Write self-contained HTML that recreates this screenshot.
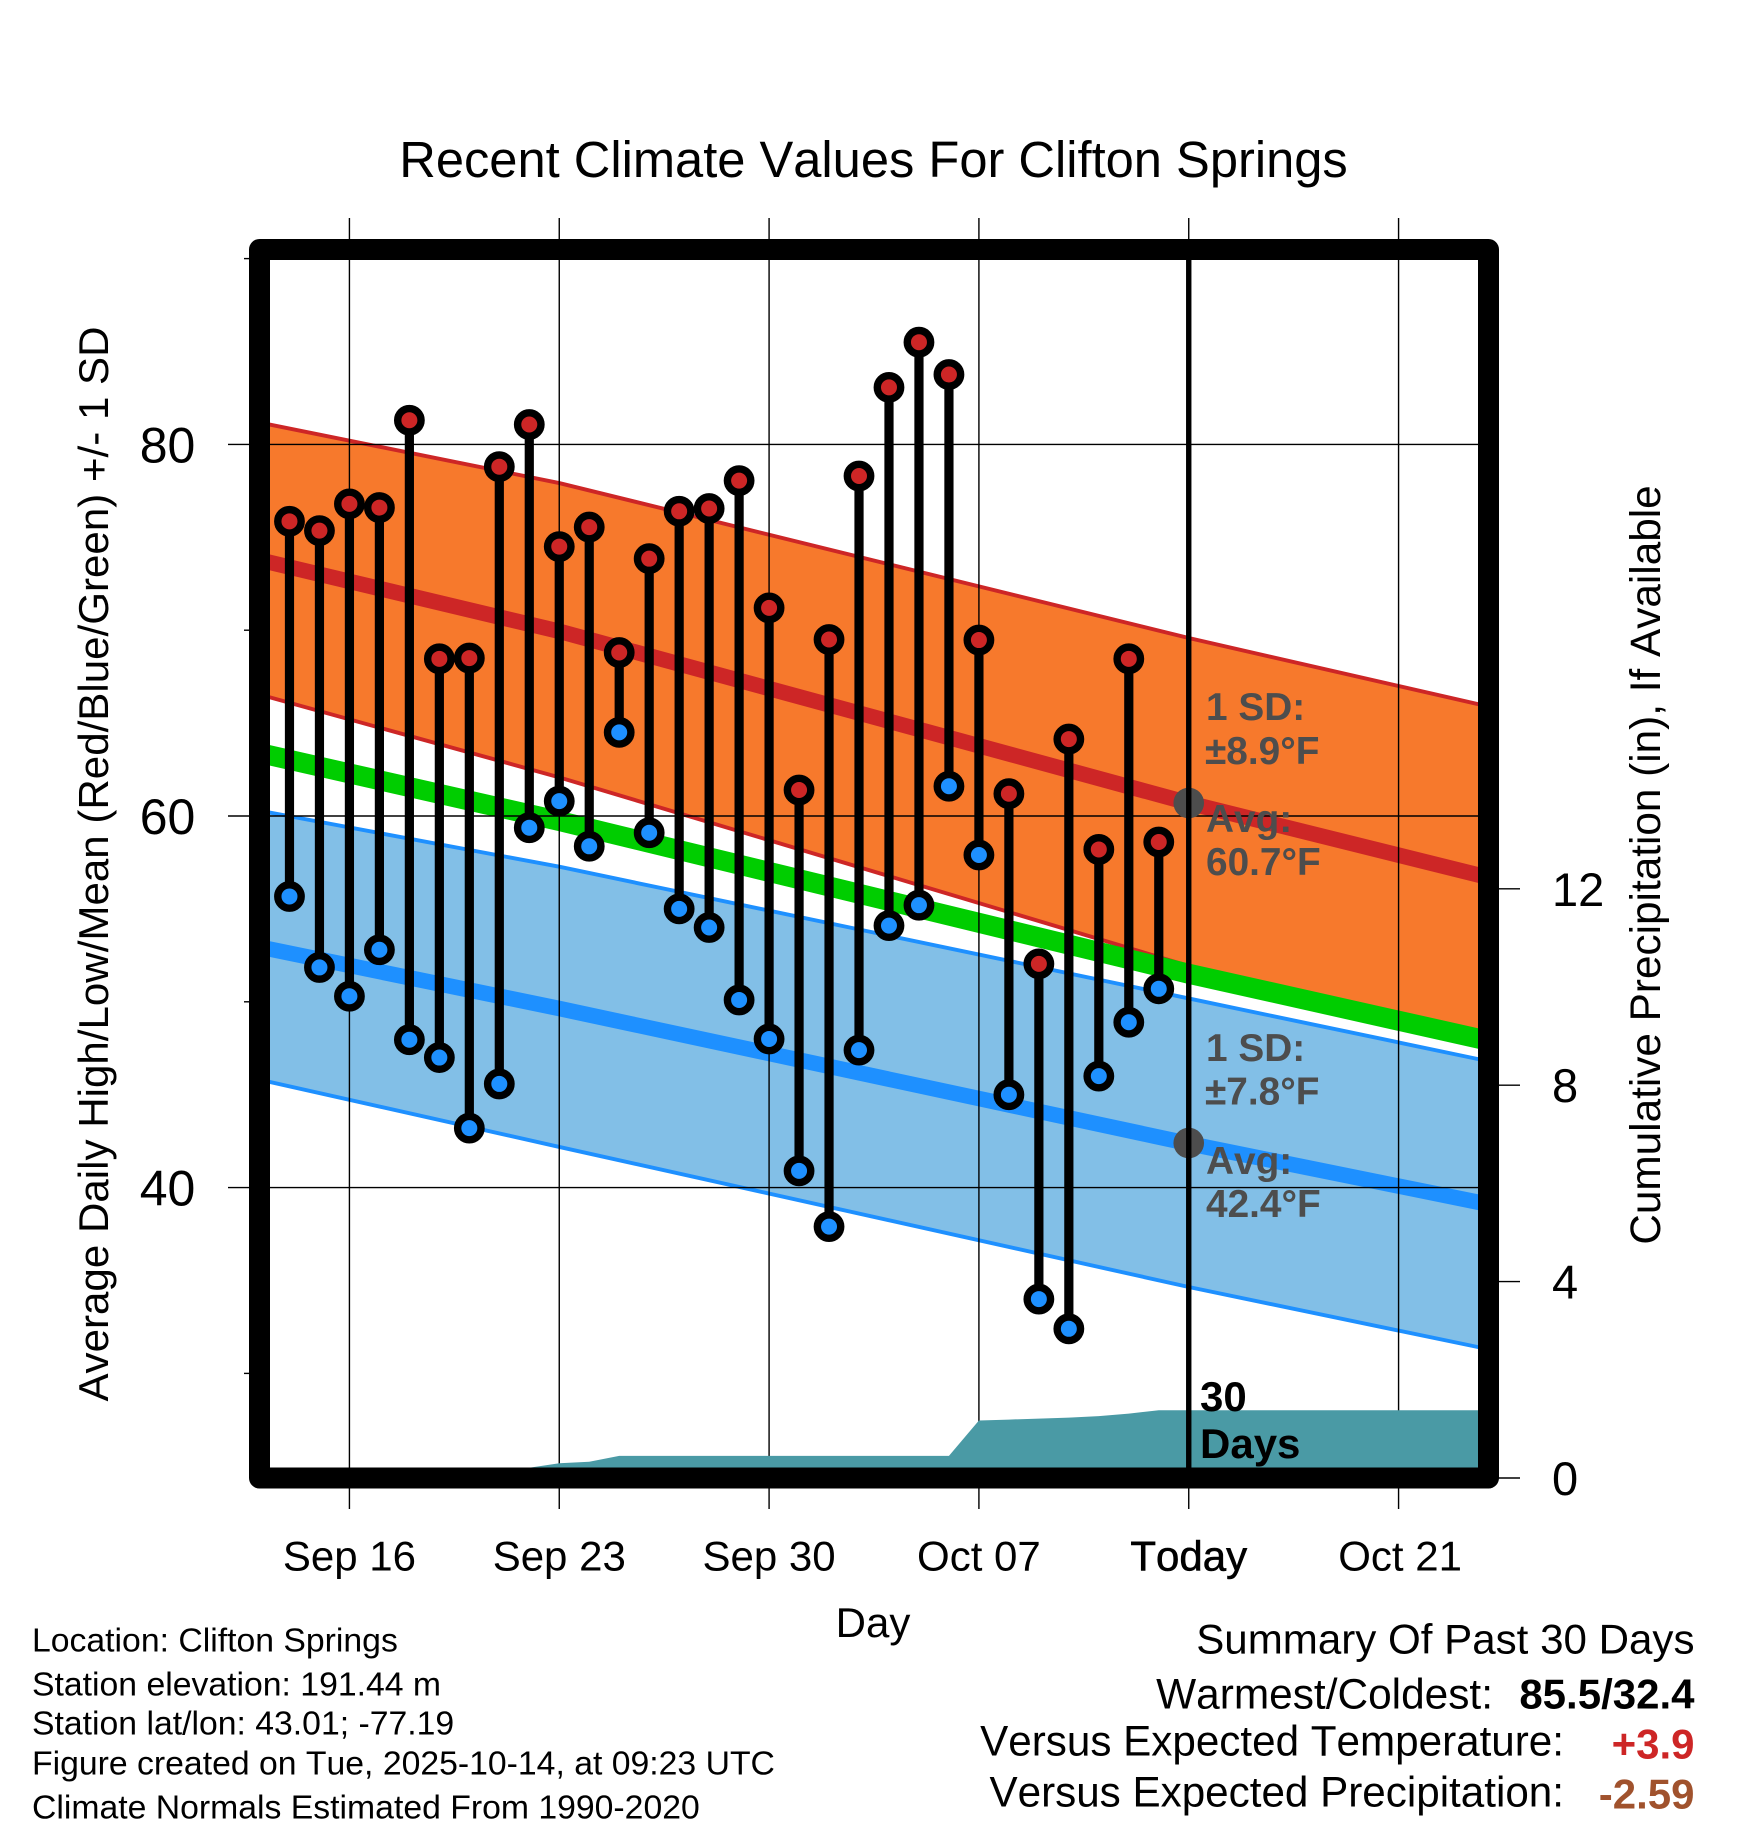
<!DOCTYPE html>
<html lang="en">
<head>
<meta charset="utf-8">
<title>Recent Climate Values For Clifton Springs</title>
<style>
html,body{margin:0;padding:0;background:#fff;}
svg{display:block;font-family:"Liberation Sans",Arial,sans-serif;font-kerning:none;}
text{font-kerning:none;}
</style>
</head>
<body>
<svg id="chart" xmlns="http://www.w3.org/2000/svg" width="1748" height="1828" viewBox="0 0 1748 1828">
  <defs>
    <clipPath id="plot-clip"><rect x="270" y="260" width="1208" height="1208"/></clipPath>
  </defs>
  <rect x="0" y="0" width="1748" height="1828" fill="#ffffff"/>
  <g id="bands" clip-path="url(#plot-clip)"></g>
  <g id="grid"></g>
  <g id="precip" clip-path="url(#plot-clip)"></g>
  <g id="marks" clip-path="url(#plot-clip)"></g>
  <g id="today"></g>
  <rect x="259.5" y="249.5" width="1229" height="1228.5" fill="none" stroke="#000" stroke-width="21" stroke-linejoin="round"/>
  <g id="ticks"></g>

  <text x="873.5" y="177" font-size="50.65" text-anchor="middle">Recent Climate Values For Clifton Springs</text>
  <text transform="translate(108,864) rotate(-90)" font-size="42.1" text-anchor="middle">Average Daily High/Low/Mean (Red/Blue/Green) +/- 1 SD</text>
  <text transform="translate(1660,865) rotate(-90)" font-size="42.3" text-anchor="middle">Cumulative Precipitation (in), If Available</text>
  <text x="873" y="1637" font-size="42" text-anchor="middle">Day</text>

  <g font-size="38.8" font-weight="bold" fill="#4d4d4d">
    <text x="1206" y="720">1 SD:</text>
    <text x="1205" y="764">±8.9°F</text>
    <text x="1206" y="832">Avg:</text>
    <text x="1206" y="875">60.7°F</text>
  </g>
  <g font-size="38.8" font-weight="bold" fill="#4d4d4d">
    <text x="1206" y="1061">1 SD:</text>
    <text x="1205" y="1104.5">±7.8°F</text>
    <text x="1206" y="1174">Avg:</text>
    <text x="1206" y="1217">42.4°F</text>
  </g>
  <text x="1200" y="1411" font-size="42" font-weight="bold">30</text>
  <text x="1200" y="1458" font-size="42" font-weight="bold">Days</text>

  <g font-size="33.75">
    <text x="32" y="1651.5">Location: Clifton Springs</text>
    <text x="32" y="1695.5">Station elevation: 191.44 m</text>
    <text x="32" y="1734.5">Station lat/lon: 43.01; -77.19</text>
    <text x="32" y="1774.5">Figure created on Tue, 2025-10-14, at 09:23 UTC</text>
    <text x="32" y="1818.5">Climate Normals Estimated From 1990-2020</text>
  </g>
  <g font-size="42" text-anchor="end">
    <text x="1694.5" y="1653.5" font-size="42.1">Summary Of Past 30 Days</text>
    <text x="1493" y="1708.5" font-size="42.4">Warmest/Coldest:</text>
    <text x="1694.5" y="1708.5" font-weight="bold">85.5/32.4</text>
    <text x="1564" y="1755.5" font-size="42.2">Versus Expected Temperature:</text>
    <text x="1694.5" y="1758.5" font-weight="bold" fill="#cd2626">+3.9</text>
    <text x="1564" y="1806.5" font-size="42.2">Versus Expected Precipitation:</text>
    <text x="1694.5" y="1808.5" font-weight="bold" fill="#a0522d">-2.59</text>
  </g>
</svg>
<script>
// Day offsets are counted from Sep 14.
var highs = [75.86,75.36,76.8,76.6,81.3,68.46,68.5,78.8,81.07,74.5,75.55,68.8,73.85,76.4,76.55,78.05,71.2,61.4,69.5,78.3,83.07,85.5,83.76,69.47,61.2,52.04,64.14,58.2,68.46,58.6];
var lows = [55.67,51.85,50.3,52.8,47.96,47.0,43.2,45.58,59.37,60.8,58.37,64.5,59.1,55,54,50.1,48,40.9,37.9,47.4,54.1,55.2,61.6,57.9,45.0,34.0,32.4,46,48.9,50.7];

var normalDays = [-1,9,30,40];
var highUpper = [81.18,77.92,69.58,65.89];
var highMean = [73.78,69.94,60.7,56.69];
var highLower = [66.54,62.08,51.93,48.05];
var overallMean = [63.39,59.73,51.51,47.9];
var lowUpper = [60.29,57.27,50.18,46.8];
var lowMean = [52.95,49.64,42.37,39.1];
var lowLower = [45.81,42.19,34.65,31.3];

var precipDays = [0,1,2,3,4,5,6,7,8,9,10,11,12,13,14,15,16,17,18,19,20,21,22,23,24,25,26,27,28,29,40];
var precipValues = [0,0,0,0,0,0,0,0,0.21,0.30,0.33,0.45,0.45,0.45,0.45,0.45,0.45,0.45,0.45,0.45,0.45,0.45,0.45,1.17,1.19,1.21,1.23,1.26,1.31,1.38,1.38];

var xTickDays = [2,9,16,23,30,37];
var xTickLabels = ["Sep 16","Sep 23","Sep 30","Oct 07","Today","Oct 21"];
var yMajorTicks = [80,60,40];
var yMinorTicks = [90,70,50,30];
var precipTicks = [0,4,8,12];
var todayDay = 30;
var todayHigh = 60.7;
var todayLow = 42.4;

function xPos(d){ return 259.5 + (d + 1) * (1229 / 41); }
function yPos(t){ return 816 - (t - 60) * 18.58; }
function pPos(v){ return 1478 - v * 49.1; }

var NS = "http://www.w3.org/2000/svg";
function make(parent, tag, props, txt){
  var el = document.createElementNS(NS, tag);
  for (var k in props) el.setAttribute(k, props[k]);
  if (txt !== undefined) el.textContent = txt;
  parent.appendChild(el);
  return el;
}
function pts(days, vals, fn){
  return days.map(function(d,i){ return xPos(d).toFixed(2) + "," + fn(vals[i]).toFixed(2); });
}

var bands = document.getElementById("bands");
var grid = document.getElementById("grid");
var precip = document.getElementById("precip");
var marks = document.getElementById("marks");
var today = document.getElementById("today");
var ticks = document.getElementById("ticks");
var svg = document.getElementById("chart");
var el;

// High-temperature band
el = make(bands, "polygon", {points: pts(normalDays, highUpper, yPos).concat(pts(normalDays, highLower, yPos).reverse()).join(" "), fill: "#f7792c"});


el = make(bands, "polyline", {points: pts(normalDays, highUpper, yPos).join(" "), fill: "none", stroke: "#cd2626", "stroke-width": 3.9});


el = make(bands, "polyline", {points: pts(normalDays, highLower, yPos).join(" "), fill: "none", stroke: "#cd2626", "stroke-width": 3.9});


el = make(bands, "polyline", {points: pts(normalDays, highMean, yPos).join(" "), fill: "none", stroke: "#cd2626", "stroke-width": 15.5});



// Low-temperature band
el = make(bands, "polygon", {points: pts(normalDays, lowUpper, yPos).concat(pts(normalDays, lowLower, yPos).reverse()).join(" "), fill: "#82bfe7"});


el = make(bands, "polyline", {points: pts(normalDays, lowUpper, yPos).join(" "), fill: "none", stroke: "#1e90ff", "stroke-width": 3.9});


el = make(bands, "polyline", {points: pts(normalDays, lowLower, yPos).join(" "), fill: "none", stroke: "#1e90ff", "stroke-width": 3.9});


el = make(bands, "polyline", {points: pts(normalDays, lowMean, yPos).join(" "), fill: "none", stroke: "#1e90ff", "stroke-width": 15.5});



// Overall mean
el = make(bands, "polyline", {points: pts(normalDays, overallMean, yPos).join(" "), fill: "none", stroke: "#00cd00", "stroke-width": 20});



// Gridlines and tick labels
xTickDays.forEach(function(d,i){
  var g = make(grid, "line", {x1: xPos(d), x2: xPos(d), y1: 218, y2: 1509, stroke: "#000", "stroke-width": 1.4});
  
  
  var labelNudge = xTickLabels[i] === "Oct 21" ? 1.5 : 0;
  var attrs = {x: xPos(d) + labelNudge, y: 1570.5, "font-size": 42, "text-anchor": "middle"};
  if (xTickLabels[i] === "Today") { attrs.stroke = "#000"; attrs["stroke-width"] = 0.6; }
  var t = make(svg, "text", attrs, xTickLabels[i]);
  
  
});
yMajorTicks.forEach(function(v){
  var g = make(grid, "line", {x1: 228, x2: 1480, y1: yPos(v), y2: yPos(v), stroke: "#000", "stroke-width": 1.4});
  
  
  var t = make(svg, "text", {x: 167.5, y: yPos(v) + 18, "font-size": 50, "text-anchor": "middle"}, String(v));
  
  
});
yMinorTicks.forEach(function(v){
  var g = make(grid, "line", {x1: 244, x2: 255, y1: yPos(v), y2: yPos(v), stroke: "#000", "stroke-width": 1.4});
  
  
});
precipTicks.forEach(function(v){
  var g = make(ticks, "line", {x1: 1496, x2: 1520, y1: pPos(v), y2: pPos(v), stroke: "#000", "stroke-width": 1.4});
  
  
  var t = make(svg, "text", {x: 1552, y: pPos(v) + 17, "font-size": 47}, String(v));
  
  
});

// Cumulative precipitation
var baseY = pPos(0);
var areaPts = [xPos(precipDays[0]).toFixed(2) + "," + baseY].concat(pts(precipDays, precipValues, pPos));
areaPts.push(xPos(precipDays[precipDays.length - 1]).toFixed(2) + "," + baseY);
el = make(precip, "polygon", {points: areaPts.join(" "), fill: "#4a9aa5"});



// Daily high/low stems and markers
highs.forEach(function(h,i){
  var stem = make(marks, "line", {x1: xPos(i), x2: xPos(i), y1: yPos(h), y2: yPos(lows[i]), stroke: "#000", "stroke-width": 9.2});
  
  
});
highs.forEach(function(h,i){
  var hi = make(marks, "circle", {cx: xPos(i), cy: yPos(h), r: 11.7, fill: "#cd2626", stroke: "#000", "stroke-width": 7.4});
  
  
  var lo = make(marks, "circle", {cx: xPos(i), cy: yPos(lows[i]), r: 11.7, fill: "#1e90ff", stroke: "#000", "stroke-width": 7.4});
  
  
});

// Today markers
el = make(today, "circle", {cx: xPos(todayDay), cy: yPos(todayHigh), r: 15.3, fill: "#4d4d4d"});


el = make(today, "circle", {cx: xPos(todayDay), cy: yPos(todayLow), r: 15.3, fill: "#4d4d4d"});


el = make(today, "line", {x1: xPos(todayDay), x2: xPos(todayDay), y1: 255, y2: 1470, stroke: "#000", "stroke-width": 5.4});


</script>
</body>
</html>
